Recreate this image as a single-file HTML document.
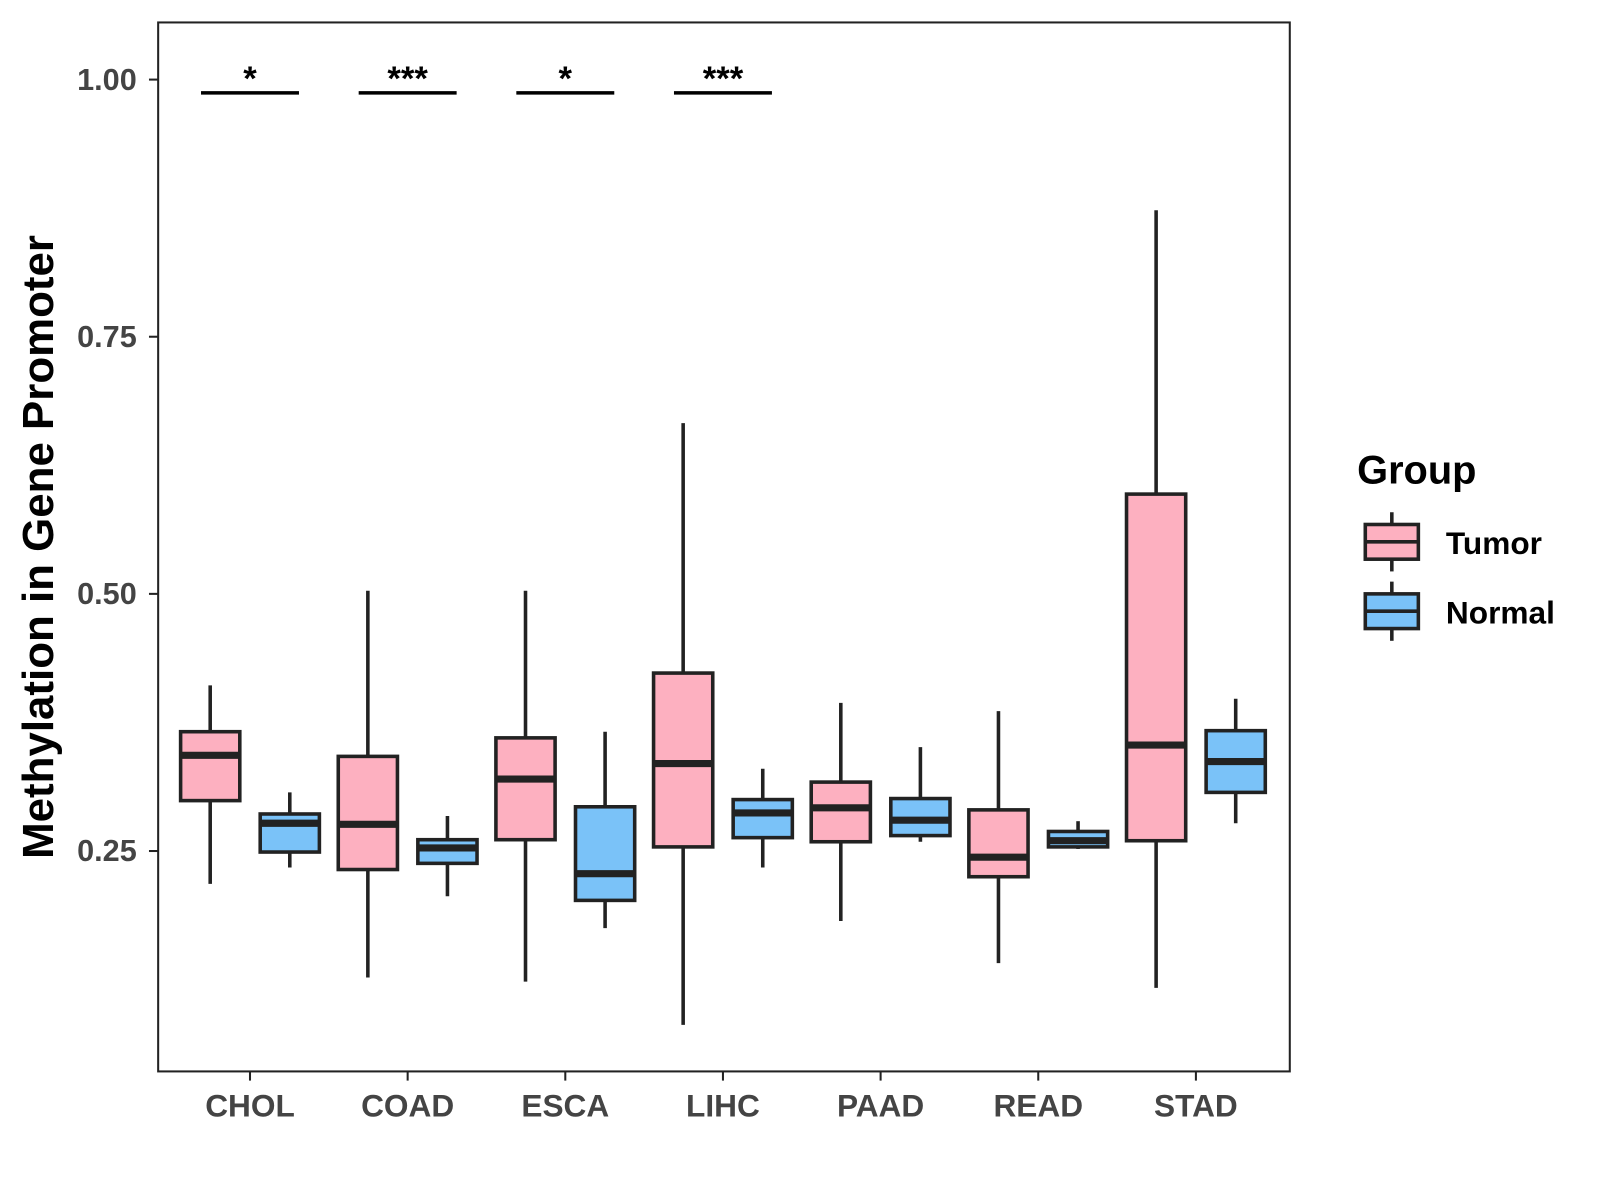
<!DOCTYPE html>
<html><head><meta charset="utf-8"><style>
html,body{margin:0;padding:0;background:#fff;width:1600px;height:1200px;overflow:hidden}
svg text{font-family:"Liberation Sans",Arial,sans-serif;font-weight:bold}
</style></head><body>
<svg id="chart" width="1600" height="1200" viewBox="0 0 1600 1200">
<g transform="scale(1.0204)">
<rect x="155" y="22" width="1109" height="1028" fill="#fff" stroke="#222" stroke-width="2"/>
<g id="axes"></g><g id="boxes"></g><g id="sig"></g>
<text transform="translate(52,536) rotate(-90)" text-anchor="middle" font-size="43" fill="#000">Methylation in Gene Promoter</text>
<g>
<text x="1330" y="474" font-size="39" fill="#000">Group</text>
<g>
<line x1="1364" y1="502" x2="1364" y2="560" stroke="#222" stroke-width="3.5"/>
<rect x="1338" y="514" width="52" height="34" fill="#FDB0C0" stroke="#222" stroke-width="3.5"/>
<line x1="1338" y1="531" x2="1390" y2="531" stroke="#222" stroke-width="3.5"/>
<text x="1417" y="543" font-size="31" fill="#000">Tumor</text></g>
<g>
<line x1="1364" y1="570" x2="1364" y2="628" stroke="#222" stroke-width="3.5"/>
<rect x="1338" y="582" width="52" height="34" fill="#7AC2F8" stroke="#222" stroke-width="3.5"/>
<line x1="1338" y1="599" x2="1390" y2="599" stroke="#222" stroke-width="3.5"/>
<text x="1417" y="611" font-size="31" fill="#000">Normal</text></g>
</g>
</g>
</svg>
<script>
const categories=["CHOL","COAD","ESCA","LIHC","PAAD","READ","STAD"];
const tumorStats=[[0.218,0.299,0.343,0.366,0.411],[0.127,0.232,0.276,0.342,0.503],[0.123,0.261,0.320,0.360,0.503],[0.081,0.254,0.335,0.423,0.666],[0.182,0.259,0.292,0.317,0.394],[0.141,0.225,0.244,0.290,0.386],[0.117,0.260,0.353,0.597,0.873]];
const normalStats=[[0.234,0.249,0.277,0.286,0.307],[0.206,0.238,0.253,0.261,0.284],[0.175,0.202,0.228,0.293,0.366],[0.234,0.263,0.287,0.300,0.330],[0.259,0.265,0.280,0.301,0.351],[0.252,0.254,0.260,0.269,0.279],[0.277,0.307,0.337,0.367,0.398]];
const yTicks=[0.25,0.5,0.75,1.0];
const yTickLabels=["0.25","0.50","0.75","1.00"];
const sigCats=["CHOL","COAD","ESCA","LIHC"];
const sigLabels=["*","***","*","***"];
const NS="http://www.w3.org/2000/svg";
const y=v=>834-(v-0.25)*1008;
const x=i=>245+i*154.5;
function mk(tag,attrs,parent,txt){const e=document.createElementNS(NS,tag);for(const k in attrs)e.setAttribute(k,attrs[k]);if(txt!==undefined)e.textContent=txt;parent.appendChild(e);return e;}
const axes=document.getElementById('axes'),boxes=document.getElementById('boxes'),sig=document.getElementById('sig');
yTicks.forEach((t,i)=>{
  const l=mk('line',{x1:146,x2:155,y1:y(t),y2:y(t),stroke:'#222','stroke-width':2},axes);
  
  
  const tx=mk('text',{x:134,y:y(t)+10,'text-anchor':'end','font-size':30,fill:'#444'},axes,yTickLabels[i]);
  
  
});
categories.forEach((c,i)=>{
  const l=mk('line',{x1:x(i),x2:x(i),y1:1050,y2:1059,stroke:'#222','stroke-width':2},axes);
  
  
  const tx=mk('text',{x:x(i),y:1094,'text-anchor':'middle','font-size':31,fill:'#444'},axes,c);
  
  
  [[tumorStats[i],-39,'#FDB0C0','tumor'],[normalStats[i],39,'#7AC2F8','normal']].forEach(([s,off,col,nm])=>{
    const cx=x(i)+off,w=58;
    const g=mk('g',{},boxes);
    
    
    mk('line',{x1:cx,x2:cx,y1:y(s[0]),y2:y(s[4]),stroke:'#222','stroke-width':3.5},g);
    mk('rect',{x:cx-w/2,y:y(s[3]),width:w,height:y(s[1])-y(s[3]),fill:col,stroke:'#222','stroke-width':3.5},g);
    mk('line',{x1:cx-w/2,x2:cx+w/2,y1:y(s[2]),y2:y(s[2]),stroke:'#222','stroke-width':7},g);
  });
});
sigCats.forEach((c,k)=>{
  const i=categories.indexOf(c);
  const l=mk('line',{x1:x(i)-48,x2:x(i)+48,y1:91,y2:91,stroke:'#000','stroke-width':3.5},sig);
  
  
  const t=mk('text',{x:x(i),y:88,'text-anchor':'middle','font-size':34,fill:'#000'},sig,sigLabels[k]);
  
  
});
</script>
</body></html>
